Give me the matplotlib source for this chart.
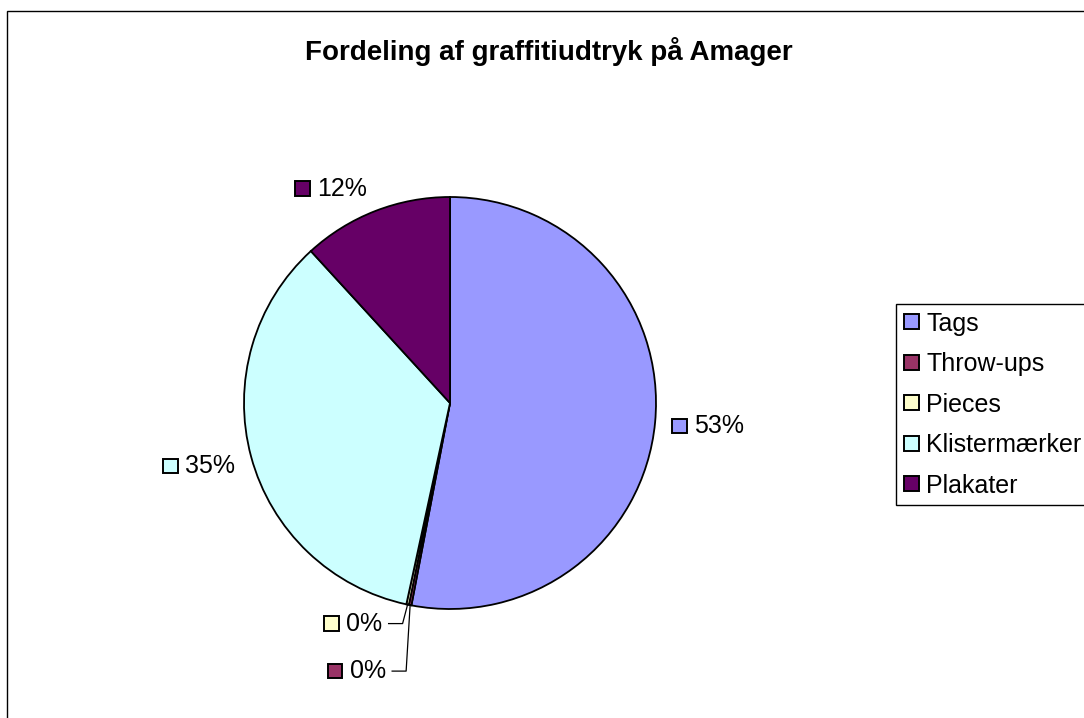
import matplotlib
matplotlib.use("Agg")
import matplotlib.pyplot as plt
import numpy as np
from matplotlib.patches import Rectangle
from matplotlib.offsetbox import DrawingArea, TextArea, HPacker, AnnotationBbox

plt.rcParams["font.family"] = ["Liberation Sans", "DejaVu Sans"]

title = "Fordeling af graffitiudtryk på Amager"
categories = ["Tags", "Throw-ups", "Pieces", "Klistermærker", "Plakater"]
shares = [53.0, 0.2, 0.2, 34.8, 11.8]
colors = ["#9999FF", "#993366", "#FFFFCC", "#CCFFFF", "#660066"]

# label layout per slice: (mode, dx, dy, box alignment)
label_layout = {
    "Tags": ("out", 0, -2, (0.0, 0.5)),
    "Throw-ups": ("leader", -4, -66, (1.0, 0.5)),
    "Pieces": ("leader", -5, -19, (1.0, 0.5)),
    "Klistermærker": ("out", 0, -5, (1.0, 0.5)),
    "Plakater": ("out", -2, -5, (1.0, 0.0)),
}

W, H = 1084, 718
fig = plt.figure(figsize=(W / 100, H / 100), dpi=100)
ax = fig.add_axes([0, 0, 1, 1])

cx, cy, R = 450, 315, 206
wedges, _ = ax.pie(shares, colors=colors, startangle=90, counterclock=False,
                   center=(cx, cy), radius=R,
                   wedgeprops=dict(edgecolor="black", linewidth=1.3))
ax.set_xlim(0, W)
ax.set_ylim(0, H)
ax.set_aspect("equal")
ax.axis("off")

total = sum(shares)
for name, w, val, col in zip(categories, wedges, shares, colors):
    mid = np.deg2rad((w.theta1 + w.theta2) / 2)
    mode, dx, dy, align = label_layout[name]
    ex, ey = cx + R * np.cos(mid), cy + R * np.sin(mid)
    if mode == "out":
        px, py = cx + 1.08 * R * np.cos(mid) + dx, cy + 1.08 * R * np.sin(mid) + dy
    else:
        kx, ky = ex + dx, ey + dy
        ax.plot([ex, kx, kx - 14], [ey, ky, ky], color="black", lw=0.9)
        px, py = kx - 20, ky
    da = DrawingArea(11.5, 11.5, 0, 0)
    da.add_artist(Rectangle((0.5, 0.5), 10.5, 10.5, facecolor=col,
                            edgecolor="black", linewidth=1.4))
    ta = TextArea(f"{val / total * 100:.0f}%", textprops=dict(fontsize=18))
    box = HPacker(children=[da, ta], align="center", pad=0, sep=5)
    ab = AnnotationBbox(box, (px, py), box_alignment=align, frameon=False,
                        pad=0)
    ax.add_artist(ab)

leg = fig.legend(wedges, categories, loc="upper left",
                 bbox_to_anchor=(896 / W, 1 - 304 / H), borderaxespad=0,
                 fontsize=18, handlelength=0.62, handleheight=0.55,
                 handletextpad=0.3, labelspacing=0.66, borderpad=0.3,
                 fancybox=False, framealpha=1, edgecolor="black")
leg.get_frame().set_linewidth(1.0)
for h in leg.legend_handles:
    h.set_edgecolor("black")
    h.set_linewidth(1.4)

fig.text(549 / W, 1 - 52 / H, title, ha="center", va="center",
         fontsize=20, fontweight="bold")

fig.add_artist(Rectangle((7 / W, -0.1), 1.2, 1.1 - 11 / H, fill=False,
                         edgecolor="black", linewidth=1.0,
                         transform=fig.transFigure))

fig.savefig("out.png", dpi=100)
